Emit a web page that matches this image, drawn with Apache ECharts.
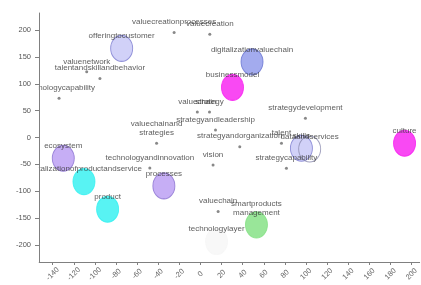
<!DOCTYPE html>
<html>
<head>
<meta charset="utf-8">
<script src="https://cdn.jsdelivr.net/npm/echarts@6/dist/echarts.min.js"></script>
<style>
  html, body { margin: 0; padding: 0; background: #fff; }
  #chart { width: 421px; height: 285px; }
</style>
</head>
<body>
<div id="chart"></div>
<script>
// tick labels
const xTicks = [-140, -120, -100, -80, -60, -40, -20, 0, 20, 40, 60, 80, 100, 120, 140, 160, 180, 200]
const yTicks = [-200, -150, -100, -50, 0, 50, 100, 150, 200]

// big bubbles (theme nodes)
const bubbleNames = [
  'offeringtocustomer', 'digitalizationvaluechain', 'businessmodel', 'culture',
  'ecosystem', 'digitalizationofproductandservice', 'product', 'processes',
  'skills', 'dataandservices', 'smartproducts\nmanagement', 'technologylayer'
]
const bubbleX = [-74.7, 48.8, 30.3, 193.3, -130, -110.4, -88, -34.7, 95.6, 103.4, 53, 15.2]
const bubbleY = [166, 141, 93.4, -10.8, -38.7, -82.2, -133.6, -90.2, -20.1, -21.4, -162.8, -193.9]
const bubbleGroup = ['lavender', 'blue', 'magenta', 'magenta', 'purple', 'cyan', 'cyan', 'purple',
  'lavender', 'outline', 'green', 'faint']

// small points
const dotNames = [
  'valuecreationprocesses', 'valuecreation', 'valuenetwork', 'talentandskillandbehavior',
  'technologycapability', 'valuechain', 'strategy', 'strategyandleadership',
  'valuechainand\nstrategies', 'technologyandinnovation', 'vision', 'strategyandorganization',
  'strategydevelopment', 'talent', 'strategycapability', 'valuechain'
]
const dotX = [-25, 8.8, -107.8, -95.3, -134, -3, 8.5, 14.2, -41.6, -48, 11.9, 37.2, 99.4, 76.7, 81.4, 16.7]
const dotY = [195.7, 192.6, 122.4, 110, 73, 47.4, 47.4, 14, -10.8, -56.7, -51.2, -17.1, 35.7, -10.8, -57.3, -138]

const groupStyle = {
  lavender: { color: '#c6c6f6', borderColor: '#7c7cd0' },
  blue: { color: '#8c96ea', borderColor: '#6470d0' },
  magenta: { color: '#f81cf0', borderColor: '#f81cf0' },
  purple: { color: '#b89af2', borderColor: '#8a70d0' },
  cyan: { color: '#2ef0f0', borderColor: '#2ef0f0' },
  green: { color: '#80e080', borderColor: '#80e080' },
  outline: { color: 'rgba(255,255,255,0)', borderColor: '#8a8aae' },
  faint: { color: '#f6f6f6', borderColor: '#f6f6f6' },
}

const labelFont = "'Liberation Sans', Arial, sans-serif"

const chart = echarts.init(document.getElementById('chart'))

const bubbleData = bubbleNames.map((name, i) => ({
  name,
  value: [bubbleX[i], bubbleY[i]],
  itemStyle: { ...groupStyle[bubbleGroup[i]], borderWidth: 1 },
}))

const dotData = dotNames.map((name, i) => ({ name, value: [dotX[i], dotY[i]] }))

const labelBase = {
  show: true,
  formatter: (p) => p.name,
  position: 'inside',
  align: 'center',
  verticalAlign: 'bottom',
  color: '#333',
  fontFamily: labelFont,
  fontSize: 8,
  lineHeight: 9,
}

const option = {
  animation: false,
  grid: { left: 39, right: 1, top: 13, bottom: 23 },
  xAxis: {
    type: 'value',
    min: -153,
    max: 207.6,
    splitLine: { show: false },
    axisLine: { onZero: false, lineStyle: { color: '#808080' } },
    axisTick: { show: true, length: 3, customValues: xTicks, lineStyle: { color: '#808080' } },
    axisLabel: {
      customValues: xTicks,
      rotate: 45,
      align: 'center',
      verticalAlign: 'middle',
      margin: 12,
      color: '#666',
      fontFamily: labelFont,
      fontSize: 7.5,
    },
  },
  yAxis: {
    type: 'value',
    min: -232,
    max: 232,
    z: 200,
    splitLine: { show: false },
    axisLine: { onZero: false, lineStyle: { color: '#808080' } },
    axisTick: { show: true, length: 4, customValues: yTicks, lineStyle: { color: '#808080' } },
    axisLabel: {
      customValues: yTicks,
      margin: 8,
      color: '#555',
      fontFamily: labelFont,
      fontSize: 7.5,
    },
  },
  graphic: [
    // hides the part of labels that runs past the left axis
    { type: 'rect', left: 0, top: 0, shape: { width: 38.5, height: 285 }, style: { fill: '#fff' }, z: 100, silent: true },
  ],
  series: [
    {
      name: 'themes',
      type: 'scatter',
      symbol: 'circle',
      symbolSize: [22, 26],
      data: bubbleData,
      label: { ...labelBase, offset: [0, -8] },
      z: 3,
    },
    {
      name: 'concepts',
      type: 'scatter',
      symbol: 'circle',
      symbolSize: 3,
      itemStyle: { color: '#6a6a6a' },
      data: dotData,
      label: { ...labelBase, offset: [0, -6] },
      z: 4,
    },
  ],
}

chart.setOption(option)
</script>
</body>
</html>
